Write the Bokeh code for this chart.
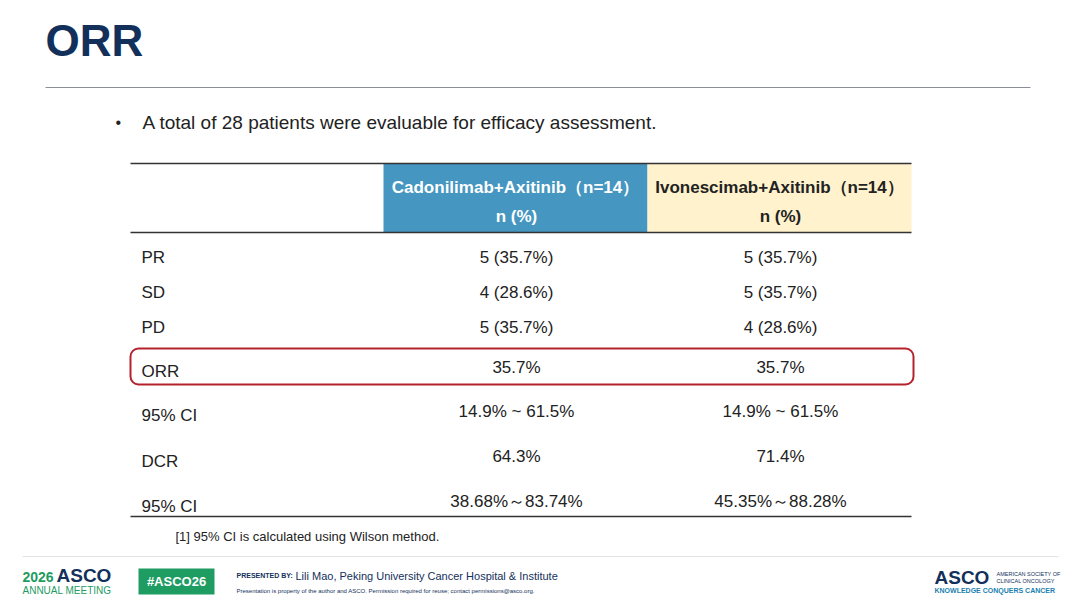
from bokeh.plotting import figure
from bokeh.models import Range1d
from bokeh.core.properties import value
from bokeh.embed import file_html
from bokeh.resources import INLINE

row_labels = ["PR", "SD", "PD", "ORR", "95% CI", "DCR", "95% CI"]
cado = ["5 (35.7%)", "4 (28.6%)", "5 (35.7%)", "35.7%", "14.9% ~ 61.5%", "64.3%", "38.68%～83.74%"]
ivo = ["5 (35.7%)", "5 (35.7%)", "4 (28.6%)", "35.7%", "14.9% ~ 61.5%", "71.4%", "45.35%～88.28%"]
headers = ["Cadonilimab+Axitinib（n=14）", "Ivonescimab+Axitinib（n=14）"]
row_y = [257, 292, 327, 371, 415, 461, 506]
val_y = [257, 292, 327, 367, 411, 456, 501]

F = value("Liberation Sans")
p = figure(width=1072, height=600, output_backend="svg", toolbar_location=None,
           x_range=Range1d(0, 1072), y_range=Range1d(600, 0), min_border=0)
p.axis.visible = False
p.grid.visible = False
p.outline_line_color = None
p.background_fill_color = "white"

# title
p.text([45], [40], text=["ORR"], text_font=F, text_font_style="bold", text_font_size="44px",
       text_color="#13305b", text_baseline="middle")
p.segment([45], [87], [1030], [87], line_color="#8a8f99", line_width=1.2)
p.text([115], [122], text=["•"], text_font=F, text_font_size="16px", text_baseline="middle", text_color="#222")
p.text([142], [122], text=["A total of 28 patients were evaluable for efficacy assessment."], text_font=F,
       text_font_size="19px", text_baseline="middle", text_color="#222")

# header cells
p.quad(left=[383, 647], right=[647, 911], top=[163, 163], bottom=[232, 232],
       fill_color=["#4596c0", "#fff2cc"], line_color=None)
p.text([515, 779], [187, 187], text=headers, text_font=F, text_font_style="bold", text_font_size="17px",
       text_align="center", text_baseline="middle", text_color=["white", "#222"])
p.text([516, 780], [216, 216], text=["n (%)", "n (%)"], text_font=F, text_font_style="bold",
       text_font_size="17px", text_align="center", text_baseline="middle", text_color=["white", "#222"])
p.segment([130, 130, 130], [163, 232, 516], [911, 911, 911], [163, 232, 516], line_color="#333", line_width=1.3)

# rows
p.text([141] * 7, row_y, text=row_labels, text_font=F, text_font_size="17px", text_baseline="middle", text_color="#222")
p.text([516] * 7, val_y, text=cado, text_font=F, text_font_size="17px", text_align="center",
       text_baseline="middle", text_color="#222")
p.text([780] * 7, val_y, text=ivo, text_font=F, text_font_size="17px", text_align="center",
       text_baseline="middle", text_color="#222")
p.rect([521.5], [366], width=[783], height=[36], fill_color=None, line_color="#b5222b", line_width=2,
       border_radius=8)

p.text([175], [536], text=["[1] 95% CI is calculated using Wilson method."], text_font=F, text_font_size="13px",
       text_baseline="middle", text_color="#222")

# footer
p.segment([22], [556], [1058], [556], line_color="#e3e3e3", line_width=1)
p.text([22], [576], text=["2026"], text_font=F, text_font_style="bold", text_font_size="14px",
       text_baseline="middle", text_color="#1e9c62")
p.text([56], [575], text=["ASCO"], text_font=F, text_font_style="bold", text_font_size="19px",
       text_baseline="middle", text_color="#13305b")
p.text([22], [590], text=["ANNUAL MEETING"], text_font=F, text_font_size="10px",
       text_baseline="middle", text_color="#1e9c62")
p.quad(left=[138], right=[214], top=[568], bottom=[594], fill_color="#1e9c62", line_color=None)
p.text([176], [581], text=["#ASCO26"], text_font=F, text_font_style="bold", text_font_size="13px",
       text_align="center", text_baseline="middle", text_color="white")
p.text([236], [575], text=["PRESENTED BY:"], text_font=F, text_font_style="bold", text_font_size="7px",
       text_baseline="middle", text_color="#13305b")
p.text([295], [575], text=["Lili Mao, Peking University Cancer Hospital & Institute"], text_font=F,
       text_font_size="11px", text_baseline="middle", text_color="#13305b")
p.text([236], [590], text=["Presentation is property of the author and ASCO. Permission required for reuse; contact permissions@asco.org."],
       text_font=F, text_font_size="6px", text_baseline="middle", text_color="#13305b")
p.text([934], [577], text=["ASCO"], text_font=F, text_font_style="bold", text_font_size="19px",
       text_baseline="middle", text_color="#13305b")
p.text([996], [573], text=["AMERICAN SOCIETY OF"], text_font=F, text_font_size="5.5px",
       text_baseline="middle", text_color="#13305b")
p.text([996], [580], text=["CLINICAL ONCOLOGY"], text_font=F, text_font_size="5.5px",
       text_baseline="middle", text_color="#13305b")
p.text([934], [590], text=["KNOWLEDGE CONQUERS CANCER"], text_font=F, text_font_style="bold", text_font_size="7px",
       text_baseline="middle", text_color="#1a7fb0")

open("out.html", "w").write(file_html(p, INLINE))
